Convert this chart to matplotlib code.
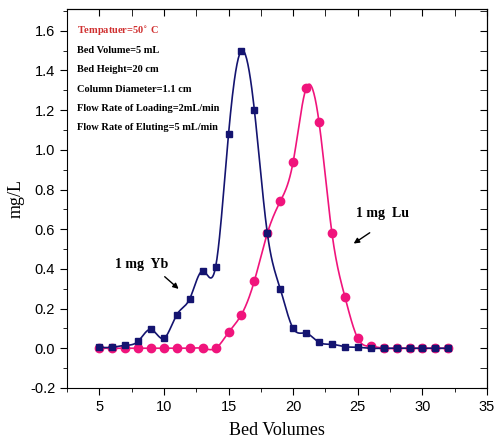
import numpy as np
import matplotlib.pyplot as plt
from matplotlib.ticker import MultipleLocator, FormatStrFormatter

bed_volumes = list(range(5, 33))

yb = [0.005, 0.005, 0.015, 0.035, 0.095, 0.05, 0.17, 0.25, 0.39, 0.41,
      1.08, 1.50, 1.20, 0.58, 0.30, 0.10, 0.076, 0.03, 0.02, 0.008,
      0.005, 0.0, 0.0, 0.0, 0.0, 0.0, 0.0, 0.0]
lu = [0.0, 0.0, 0.0, 0.0, 0.0, 0.0, 0.0, 0.0, 0.0, 0.0,
      0.08, 0.17, 0.34, 0.58, 0.74, 0.94, 1.31, 1.14, 0.58, 0.26,
      0.05, 0.01, 0.0, 0.0, 0.0, 0.0, 0.0, 0.0]

info_lines = ["Bed Volume=5 mL", "Bed Height=20 cm", "Column Diameter=1.1 cm",
              "Flow Rate of Loading=2mL/min", "Flow Rate of Eluting=5 mL/min"]


def spline(x, y, n=20):
    # natural cubic spline, only used to draw the smooth connecting line
    x = np.asarray(x, float)
    y = np.asarray(y, float)
    k = len(x)
    h = np.diff(x)
    A = np.zeros((k, k))
    b = np.zeros(k)
    A[0, 0] = A[-1, -1] = 1
    for i in range(1, k - 1):
        A[i, i - 1] = h[i - 1]
        A[i, i] = 2 * (h[i - 1] + h[i])
        A[i, i + 1] = h[i]
        b[i] = 6 * ((y[i + 1] - y[i]) / h[i] - (y[i] - y[i - 1]) / h[i - 1])
    M = np.linalg.solve(A, b)
    xs, ys = [], []
    for i in range(k - 1):
        t = np.linspace(x[i], x[i + 1], n, endpoint=False)
        a = x[i + 1] - t
        c = t - x[i]
        s = (M[i] * a ** 3 + M[i + 1] * c ** 3) / (6 * h[i]) \
            + (y[i] / h[i] - M[i] * h[i] / 6) * a \
            + (y[i + 1] / h[i] - M[i + 1] * h[i] / 6) * c
        xs.extend(t)
        ys.extend(s)
    xs.append(x[-1])
    ys.append(y[-1])
    return xs, ys


navy = '#141470'
pink = '#f0147c'

fig = plt.figure(figsize=(4.96, 4.48), dpi=100)
ax = fig.add_axes([0.135, 0.134, 0.847, 0.846])

xs, ys = spline(bed_volumes, lu)
ax.plot(xs, ys, color=pink, lw=1.2)
ax.plot(bed_volumes, lu, 'o', color=pink, ms=6)
xs, ys = spline(bed_volumes, yb)
ax.plot(xs, ys, color=navy, lw=1.2)
ax.plot(bed_volumes, yb, 's', color=navy, ms=5)

ax.set_xlim(2.5, 35)
ax.set_ylim(-0.2, 1.71)
ax.xaxis.set_major_locator(MultipleLocator(5))
ax.xaxis.set_minor_locator(MultipleLocator(2.5))
ax.yaxis.set_major_locator(MultipleLocator(0.2))
ax.yaxis.set_minor_locator(MultipleLocator(0.1))
ax.yaxis.set_major_formatter(FormatStrFormatter('%.1f'))
ax.tick_params(which='both', direction='out', labelsize=10.5)
ax.tick_params(which='major', length=5)
ax.tick_params(which='minor', length=3)
for lab in ax.get_xticklabels() + ax.get_yticklabels():
    lab.set_family('Liberation Sans')

top = ax.secondary_xaxis('top')
top.xaxis.set_major_locator(MultipleLocator(5))
top.xaxis.set_minor_locator(MultipleLocator(2.5))
top.tick_params(which='both', direction='in', labeltop=False, length=5)
right = ax.secondary_yaxis('right')
right.yaxis.set_major_locator(MultipleLocator(0.2))
right.yaxis.set_minor_locator(MultipleLocator(0.1))
right.tick_params(which='both', direction='in', labelright=False, length=5)

ax.set_xlabel('Bed Volumes', family='Liberation Serif', fontsize=13, labelpad=6)
ax.set_ylabel('mg/L', family='Liberation Serif', fontsize=13)

ax.text(3.3, 1.6, 'Tempatuer=50$^{\\circ}$ C', color='#d03030', family='Liberation Serif',
        fontweight='bold', fontsize=7.5, va='center')
for i, s in enumerate(info_lines):
    ax.text(3.3, 1.5 - 0.097 * i, s, family='Liberation Serif', fontweight='bold',
            fontsize=7.5, va='center')

ax.text(8.3, 0.42, '1 mg  Yb', family='Liberation Serif', fontweight='bold',
        fontsize=10, ha='center', va='center')
ax.annotate('', xy=(11.3, 0.29), xytext=(9.9, 0.37),
            arrowprops=dict(arrowstyle='-|>', color='black', lw=1, mutation_scale=8))
ax.text(26.9, 0.68, '1 mg  Lu', family='Liberation Serif', fontweight='bold',
        fontsize=10, ha='center', va='center')
ax.annotate('', xy=(24.5, 0.52), xytext=(26.1, 0.59),
            arrowprops=dict(arrowstyle='-|>', color='black', lw=1, mutation_scale=8))

fig.savefig('out.png', dpi=100)
